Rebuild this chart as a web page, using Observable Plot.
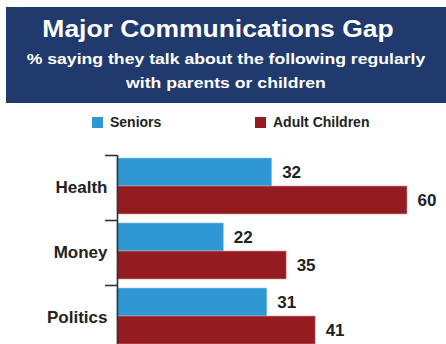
<!DOCTYPE html>
<html>
<head>
<meta charset="utf-8">
<script src="https://cdn.jsdelivr.net/npm/d3@7"></script>
<script src="https://cdn.jsdelivr.net/npm/@observablehq/plot@0.6"></script>
<style>
  html, body { margin: 0; padding: 0; background: #fff; overflow: hidden; width: 446px; height: 344px; }
  body { position: relative; font-family: "Liberation Sans", Arial, sans-serif; }
  #banner { position: absolute; left: 6px; top: 7px; width: 440px; height: 96px; background: #203a6d; color: #fff; text-align: center; }
  #title { position: absolute; left: 0; right: 16px; top: 10px; font-size: 23px; line-height: 24px; font-weight: bold; transform: scaleX(1.15); }
  #subtitle { position: absolute; left: 0; right: 0; top: 40px; font-size: 15px; line-height: 23.5px; font-weight: bold; transform: scaleX(1.175); }
  .leg { position: absolute; top: 114px; font-size: 14px; font-weight: bold; color: #222; line-height: 17px; }
  .sw { position: absolute; top: 117px; width: 11px; height: 11px; }
  #chart { position: absolute; left: 0; top: 145px; }
</style>
</head>
<body>
<div id="banner">
  <div id="title">Major Communications Gap</div>
  <div id="subtitle">% saying they talk about the following regularly<br>with parents or children</div>
</div>
<div id="legend"></div>
<div id="chart"></div>
<script>
const categories = ["Health", "Money", "Politics"];
const seriesNames = ["Seniors", "Adult Children"];
const seniors = [32, 22, 31];
const adultChildren = [60, 35, 41];
const colors = ["#2e97d4", "#941b1f"];

// legend
const legendPos = [{sw: 92, tx: 110}, {sw: 255, tx: 273}];
const legend = document.getElementById("legend");
seriesNames.forEach((name, i) => {
  const s = document.createElement("div");
  s.className = "sw"; s.style.left = legendPos[i].sw + "px"; s.style.background = colors[i];
  const t = document.createElement("div");
  t.className = "leg"; t.style.left = legendPos[i].tx + "px"; t.textContent = name;
  legend.appendChild(s); legend.appendChild(t);
});

const rows = [];
categories.forEach((c, i) => {
  rows.push({cat: c, series: seriesNames[0], value: seniors[i]});
  rows.push({cat: c, series: seriesNames[1], value: adultChildren[i]});
});
const sRows = rows.filter(d => d.series === seriesNames[0]);
const aRows = rows.filter(d => d.series === seriesNames[1]);

const band = 65;
const plot = Plot.plot({
  width: 446,
  height: 210,
  marginLeft: 117,
  marginRight: 39,
  marginTop: 10,
  marginBottom: 5,
  style: {fontFamily: "'Liberation Sans', Arial, sans-serif", background: "transparent"},
  x: {domain: [0, 60], axis: null},
  y: {domain: categories, paddingInner: 0, paddingOuter: 0, axis: null},
  marks: [
    Plot.barX(sRows, {x: "value", y: "cat", fill: colors[0], insetTop: 3, insetBottom: band - 31, stroke: "#8fc6ea", strokeWidth: 0.6}),
    Plot.barX(aRows, {x: "value", y: "cat", fill: colors[1], insetTop: 31, insetBottom: band - 59, stroke: "#d99a9c", strokeWidth: 0.6}),
    Plot.text(sRows, {x: "value", y: "cat", text: d => String(d.value), dx: 10, dy: -15, textAnchor: "start", fontSize: 17, fontWeight: "bold", fill: "#222"}),
    Plot.text(aRows, {x: "value", y: "cat", text: d => String(d.value), dx: 10, dy: 13, textAnchor: "start", fontSize: 17, fontWeight: "bold", fill: "#222"}),
    Plot.ruleX([0], {stroke: "#333", strokeWidth: 1.6}),
    Plot.axisY({anchor: "left", tickSize: 12, fill: "none", stroke: "#333", strokeWidth: 1.6, dy: -band / 2, label: null}),
    Plot.axisY({anchor: "left", tickSize: 0, tickPadding: 10, fontSize: 17, fontWeight: "bold", fill: "#222", label: null})
  ]
});
document.getElementById("chart").appendChild(plot);
</script>
</body>
</html>
